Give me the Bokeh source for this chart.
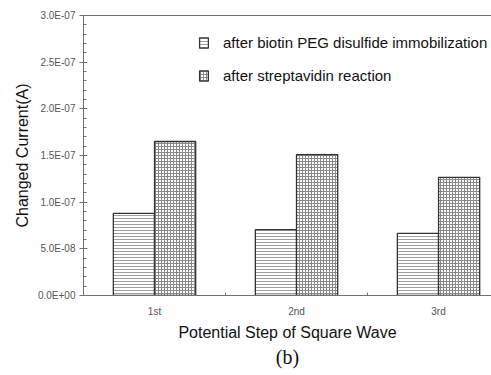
from bokeh.plotting import figure
from bokeh.models import (ColumnDataSource, FixedTicker, LinearAxis, Range1d,
                          Legend, LegendItem, Title)
from bokeh.transform import dodge
from bokeh.embed import file_html
from bokeh.resources import INLINE

categories = ["1st", "2nd", "3rd"]
biotin_peg = [8.8e-8, 7.05e-8, 6.65e-8]
streptavidin = [1.65e-7, 1.51e-7, 1.265e-7]
y_ticks = [0.0, 5.0e-8, 1.0e-7, 1.5e-7, 2.0e-7, 2.5e-7, 3.0e-7]
y_tick_labels = ["0.0E+00", "5.0E-08", "1.0E-07", "1.5E-07", "2.0E-07", "2.5E-07", "3.0E-07"]
series_names = ["after biotin PEG disulfide immobilization", "after streptavidin reaction"]

FONT = "Liberation Sans"
GRAY = "#707070"

xs = [i + 0.5 for i in range(len(categories))]
src = ColumnDataSource(dict(x=xs, a=biotin_peg, b=streptavidin))

p = figure(width=491, height=375, output_backend="svg", toolbar_location=None,
           x_range=Range1d(0, 2.873), y_range=Range1d(0, 3.0e-7),
           min_border_left=83, min_border_right=0, min_border_top=15,
           min_border_bottom=80)
p.outline_line_color = None
p.grid.visible = False
p.background_fill_color = "white"
p.border_fill_color = "white"

bw = 0.29
r1 = p.vbar(x=dodge("x", -bw / 2, range=p.x_range), top="a", width=bw, source=src,
            fill_color="white", line_color="#333333", line_width=1.3,
            hatch_pattern="horizontal_line", hatch_scale=3, hatch_color="#a0a0a0",
            hatch_weight=1)
r2 = p.vbar(x=dodge("x", bw / 2, range=p.x_range), top="b", width=bw, source=src,
            fill_color="white", line_color="#333333", line_width=1.3,
            hatch_pattern="cross", hatch_scale=3, hatch_color="#8a8a8a",
            hatch_weight=1)

# x axis
xa = p.xaxis[0]
xa.ticker = FixedTicker(ticks=xs, minor_ticks=[1, 2])
xa.major_label_overrides = {x: c for x, c in zip(xs, categories)}
xa.major_tick_in = 0
xa.major_tick_out = 0
xa.minor_tick_in = 3
xa.minor_tick_out = 0
xa.minor_tick_line_color = GRAY
xa.axis_line_color = GRAY
xa.major_label_text_font = FONT
xa.major_label_text_font_size = "10px"
xa.major_label_text_color = "#555555"
xa.major_label_standoff = 10
xa.axis_label = "Potential Step of Square Wave"
xa.axis_label_text_font = FONT
xa.axis_label_text_font_size = "16px"
xa.axis_label_text_font_style = "normal"
xa.axis_label_text_color = "#111111"
xa.axis_label_standoff = 4

# y axis
ya = p.yaxis[0]
minor = [i * 1e-8 for i in range(31)]
ya.ticker = FixedTicker(ticks=y_ticks, minor_ticks=minor)
ya.major_label_overrides = {t: s for t, s in zip(y_ticks, y_tick_labels)}
ya.major_tick_in = 4
ya.major_tick_out = 4
ya.minor_tick_in = 3
ya.minor_tick_out = 0
ya.major_tick_line_color = GRAY
ya.minor_tick_line_color = GRAY
ya.axis_line_color = GRAY
ya.major_label_text_font = FONT
ya.major_label_text_font_size = "10px"
ya.major_label_text_color = "#555555"
ya.major_label_standoff = 4
ya.axis_label = "Changed Current(A)"
ya.axis_label_text_font = FONT
ya.axis_label_text_font_size = "16px"
ya.axis_label_text_font_style = "normal"
ya.axis_label_text_color = "#111111"
ya.axis_label_standoff = 4

# top border line
top = LinearAxis(ticker=FixedTicker(ticks=[]), major_label_text_font_size="0px",
                 axis_line_color=GRAY, major_tick_in=0, major_tick_out=0,
                 minor_tick_in=0, minor_tick_out=0)
p.add_layout(top, "above")

legend = Legend(items=[LegendItem(label=series_names[0], renderers=[r1]),
                       LegendItem(label=series_names[1], renderers=[r2])],
                location=(115, 211), orientation="vertical",
                glyph_width=11, glyph_height=13, label_height=13,
                label_standoff=14, spacing=16, padding=0, margin=0,
                border_line_color=None, background_fill_alpha=0,
                label_text_font=FONT, label_text_font_size="15px",
                label_text_color="#111111")
p.add_layout(legend, "center")

t = Title(text="(b)", align="center", text_font="Liberation Serif",
          text_font_size="20px", text_font_style="normal", text_color="#111111",
          offset=-14, standoff=0)
p.add_layout(t, "below")

open("out.html", "w").write(file_html(p, INLINE))
